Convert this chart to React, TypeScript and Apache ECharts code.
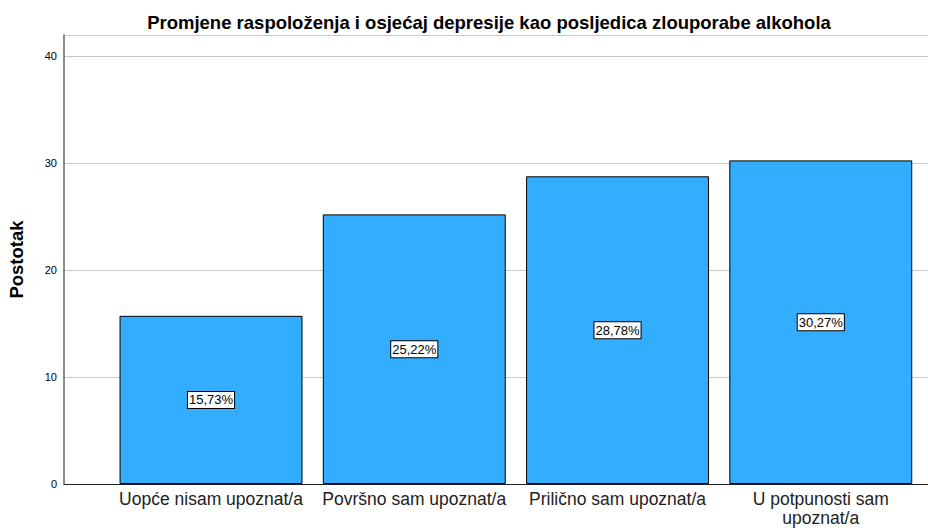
import React, { useEffect, useRef } from "react";
import * as echarts from "echarts";

const TITLE = "Promjene raspoloženja i osjećaj depresije kao posljedica zlouporabe alkohola";
const Y_NAME = "Postotak";
const CATEGORIES = ["Uopće nisam upoznat/a", "Površno sam upoznat/a", "Prilično sam upoznat/a", "U potpunosti sam upoznat/a"];
const VALUES = [15.73, 25.22, 28.78, 30.27];
const Y_MIN = 0;
const Y_MAX = 42;
const Y_INTERVAL = 10;

const TOP = 35;
const BOTTOM = 44;
const WRAP_CHARS = 22;

function wrapLabel(s: string): string {
  if (s.length <= WRAP_CHARS) return s;
  const cut = s.lastIndexOf(" ", WRAP_CHARS);
  if (cut <= 0) return s;
  return s.slice(0, cut) + "\n" + s.slice(cut + 1);
}

export default function App() {
  const ref = useRef<HTMLDivElement>(null);
  useEffect(() => {
    if (!ref.current) return;
    const chart = echarts.init(ref.current, null, { renderer: "svg" });
    chart.setOption({
      animation: false,
      backgroundColor: "#ffffff",
      textStyle: { fontFamily: "Liberation Sans, Arial, sans-serif" },
      title: {
        text: TITLE,
        left: 484,
        top: 8,
        textAlign: "center",
        textStyle: { fontSize: 18.5, fontWeight: "bold", color: "#000", fontFamily: "Liberation Sans, Arial, sans-serif" },
      },
      grid: [
        { left: 64, right: 0, top: TOP, bottom: BOTTOM, outerBoundsMode: "none", containLabel: false },
        { left: 109.4, right: 5.6, top: TOP, bottom: BOTTOM, outerBoundsMode: "none", containLabel: false },
      ],
      xAxis: [
        {
          gridIndex: 0,
          type: "value",
          min: 0,
          max: 1,
          axisLine: { show: true, onZero: false, lineStyle: { color: "#222", width: 1 } },
          axisTick: { show: false },
          axisLabel: { show: false },
          splitLine: { show: false },
        },
        {
          gridIndex: 1,
          type: "category",
          data: CATEGORIES,
          axisLine: { show: false },
          axisTick: { show: false },
          axisLabel: {
            margin: 6,
            fontSize: 17.5,
            color: "#222",
            lineHeight: 18.5,
            interval: 0,
            formatter: (v: string) => wrapLabel(v),
          },
        },
      ],
      yAxis: [
        {
          gridIndex: 0,
          type: "value",
          min: Y_MIN,
          max: Y_MAX,
          interval: Y_INTERVAL,
          name: Y_NAME,
          nameLocation: "middle",
          nameGap: 38,
          nameTextStyle: { fontSize: 18.5, fontWeight: "bold", color: "#000" },
          axisLine: { show: true, lineStyle: { color: "#666", width: 1.5 } },
          axisTick: { show: false },
          axisLabel: { fontSize: 11, color: "#000", margin: 7, showMaxLabel: false },
          splitLine: { show: true, lineStyle: { color: "#c8c8c8", width: 1 } },
        },
        {
          gridIndex: 1,
          type: "value",
          min: Y_MIN,
          max: Y_MAX,
          interval: Y_INTERVAL,
          show: false,
          splitLine: { show: false },
        },
      ],
      series: [
        {
          type: "bar",
          xAxisIndex: 1,
          yAxisIndex: 1,
          data: VALUES,
          barCategoryGap: "10%",
          itemStyle: { color: "#33adff", borderColor: "#000", borderWidth: 1 },
          label: {
            show: true,
            position: "inside",
            formatter: (p: any) => p.value.toFixed(2).replace(".", ",") + "%",
            fontSize: 13,
            color: "#000",
            backgroundColor: "#fff",
            borderColor: "#000",
            borderWidth: 1,
            padding: [2, 1, 1, 1],
          },
        },
      ],
    });
    return () => chart.dispose();
  }, []);
  return <div ref={ref} style={{ position: "fixed", left: 0, top: 0, width: 928, height: 528 }} />;
}
